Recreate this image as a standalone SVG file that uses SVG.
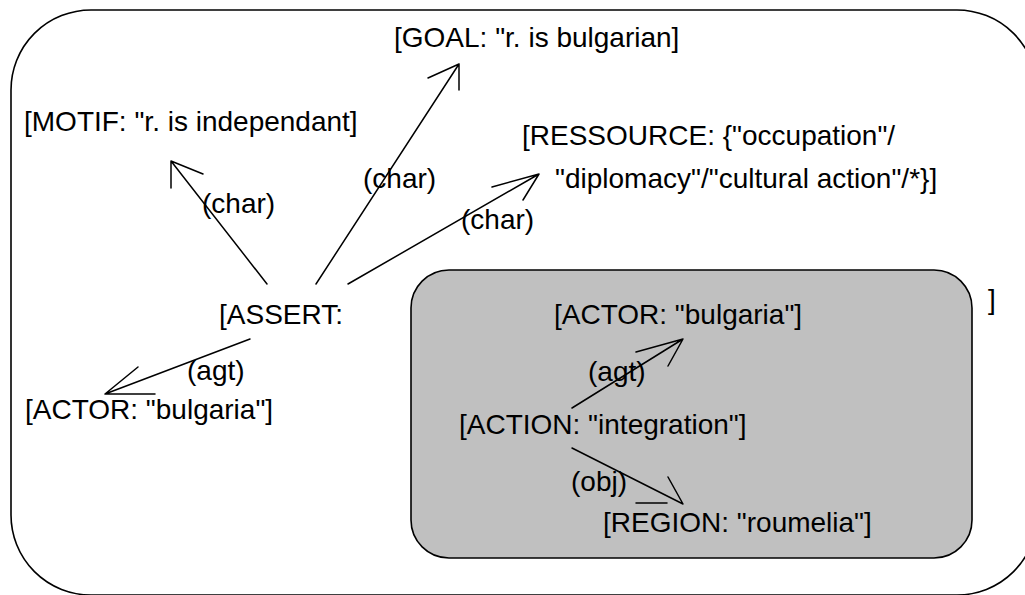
<svg xmlns="http://www.w3.org/2000/svg" width="1025" height="595" viewBox="0 0 1025 595">
  <style>
    .lbl { font-family: "Liberation Sans", Arial, sans-serif; font-size: 28px; fill: #000; }
    .ctx { stroke: #000; stroke-width: 1.6; }
    .edge { fill: none; stroke: #000; stroke-width: 1.5; stroke-linecap: round; stroke-linejoin: round; }
  </style>
  <rect width="1025" height="595" fill="#fff"/>

  <!-- outer context -->
  <g id="assert-context">
    <rect class="ctx" x="11" y="10" width="1026" height="585" rx="80" ry="80" fill="#fff"/>
  </g>

  <!-- nested proposition -->
  <g id="proposition-context">
    <rect class="ctx" x="411" y="270" width="561" height="288" rx="38" ry="38" fill="#c0c0c0"/>
  </g>

  <g id="goal"><text class="lbl" x="394" y="47">[GOAL: "r. is bulgarian]</text></g>
  <g id="motif"><text class="lbl" x="24" y="131">[MOTIF: "r. is independant]</text></g>
  <g id="ressource">
    <text class="lbl" x="522" y="145">[RESSOURCE: {"occupation"/</text>
    <text class="lbl" x="555" y="188">"diplomacy"/"cultural action"/*}]</text>
  </g>
  <g id="assert">
    <text class="lbl" x="219" y="324">[ASSERT:</text>
    <text class="lbl" x="988" y="309">]</text>
  </g>
  <g id="actor-outer"><text class="lbl" x="25" y="419">[ACTOR: "bulgaria"]</text></g>
  <g id="actor-inner"><text class="lbl" x="554" y="324">[ACTOR: "bulgaria"]</text></g>
  <g id="action"><text class="lbl" x="459" y="434">[ACTION: "integration"]</text></g>
  <g id="region"><text class="lbl" x="603" y="532">[REGION: "roumelia"]</text></g>

  <g id="connectors">
    <!-- char -> motif -->
    <path class="edge" d="M267 284 L171 161 M203 174 L171 161 L171 188"/>
    <text class="lbl" x="202" y="213">(char)</text>
    <!-- char -> goal -->
    <path class="edge" d="M316 284 L459 64 M428 78 L459 64 L459 90"/>
    <text class="lbl" x="363" y="188">(char)</text>
    <!-- char -> ressource -->
    <path class="edge" d="M348 284 L539 174 M492 187 L539 174 L523 200"/>
    <text class="lbl" x="461" y="229">(char)</text>
    <!-- agt -> actor (outer) -->
    <path class="edge" d="M250 339 L105 394 M138 367 L105 394 L155 394"/>
    <text class="lbl" x="187" y="380">(agt)</text>
    <!-- agt -> actor (inner) -->
    <path class="edge" d="M572 408 L683 339 M636 352 L683 339 L668 366"/>
    <text class="lbl" x="588" y="381">(agt)</text>
    <!-- obj -> region -->
    <path class="edge" d="M572 448 L683 504 L668 477 M636 503 L667 503"/>
    <text class="lbl" x="571" y="491">(obj)</text>
  </g>
</svg>
